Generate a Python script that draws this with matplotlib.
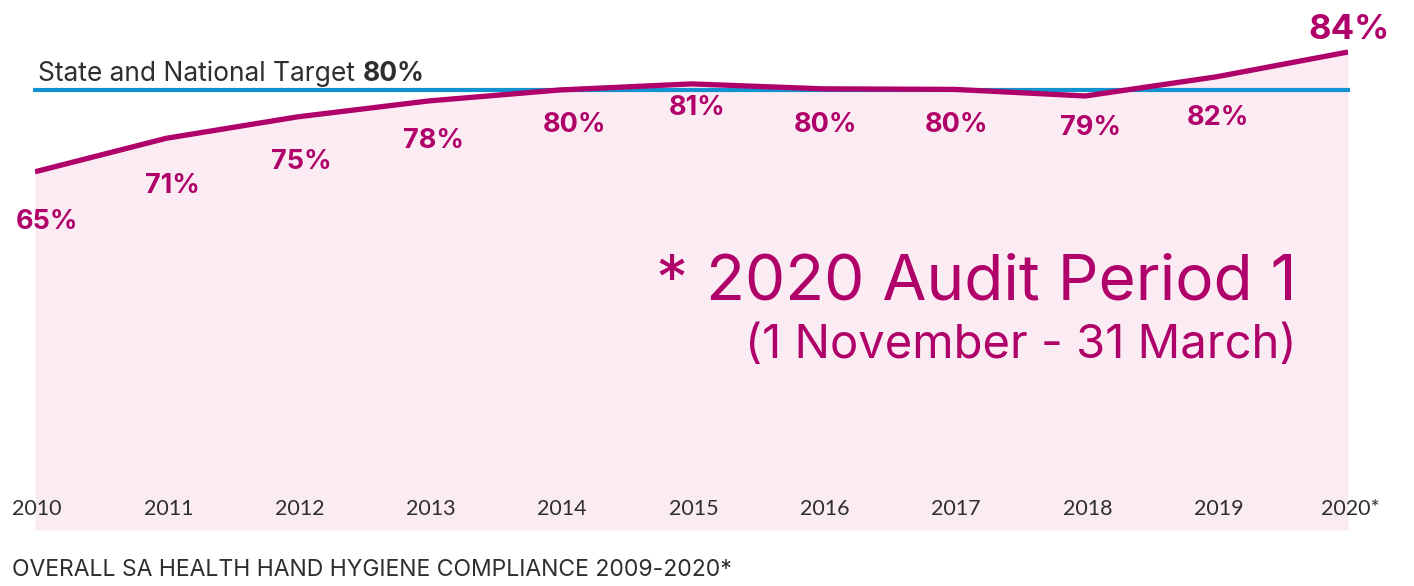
import matplotlib
matplotlib.use('Agg')
import matplotlib.pyplot as plt
import numpy as np

# data
years = [2010, 2011, 2012, 2013, 2014, 2015, 2016, 2017, 2018, 2019, 2020]
year_labels = ['2010', '2011', '2012', '2013', '2014', '2015', '2016', '2017', '2018', '2019', '2020*']
line_vals = [65.2, 71.3, 75.2, 78.1, 80.1, 81.2, 80.3, 80.2, 79.0, 82.5, 87.0]
pct_labels = ['65%', '71%', '75%', '78%', '80%', '81%', '80%', '80%', '79%', '82%', '84%']
target = 80

# label placement (pixel offsets from each point)
lab_dx = [12, 6, 4, 5, 14, 6, 3, 2, 5, 1, 1]
lab_dy = [-50, -48, -45, -40, -35, -24, -36, -36, -32, -41, 22]

magenta = '#B0006A'
pink_fill = '#FBEBF3'
blue = '#1193D2'
grey = '#2E2E2E'

plt.rcParams['font.family'] = ['Inter', 'DejaVu Sans']

fig = plt.figure(figsize=(14.14, 5.86), dpi=100)
ax = fig.add_axes([35/1414, 56/586, 1313/1414, 530/586])
ax.set_xlim(years[0], years[-1])
ax.set_ylim(0, 530/5.494)
ax.axis('off')

ax.fill_between(years, line_vals, 0, color=pink_fill, lw=0, zorder=1)
ax.plot([years[0] - 0.015, years[-1] + 0.015], [target, target], color=blue, lw=3, zorder=2,
        solid_capstyle='butt', clip_on=False)
ax.plot(years, line_vals, color=magenta, lw=3.8, zorder=3, solid_joinstyle='round',
        solid_capstyle='butt')

for i in range(len(years)):
    big = i == len(years) - 1
    ax.annotate(pct_labels[i], xy=(years[i], line_vals[i]), xytext=(lab_dx[i], lab_dy[i]),
                textcoords='offset pixels', ha='center', va='center',
                color=magenta, fontsize=25 if big else 19.5, fontweight='bold',
                annotation_clip=False)
    ax.annotate(year_labels[i], xy=(years[i], 0), xytext=(2, 21), textcoords='offset pixels',
                ha='center', va='center', color=grey, fontsize=15.5, family=['Lato'],
                annotation_clip=False)

t1 = ax.annotate('State and National Target ', xy=(years[0], target), xytext=(3, 3),
                 textcoords='offset pixels', ha='left', va='bottom', color=grey,
                 fontsize=19, annotation_clip=False)
ax.annotate('80%', xy=(1, 0), xycoords=t1, ha='left', va='bottom', color=grey,
            fontsize=19, fontweight='bold')

fig.text(1297/1414, 1 - 283/586, '* 2020 Audit Period 1', ha='right', va='center',
         color=magenta, fontsize=46)
fig.text(1297/1414, 1 - 346/586, '(1 November - 31 March)', ha='right', va='center',
         color=magenta, fontsize=34)

fig.text(12/1414, 1 - 570/586, 'OVERALL SA HEALTH HAND HYGIENE COMPLIANCE 2009-2020*',
         ha='left', va='center', color=grey, fontsize=16.5)

fig.savefig('out.png', dpi=100)
